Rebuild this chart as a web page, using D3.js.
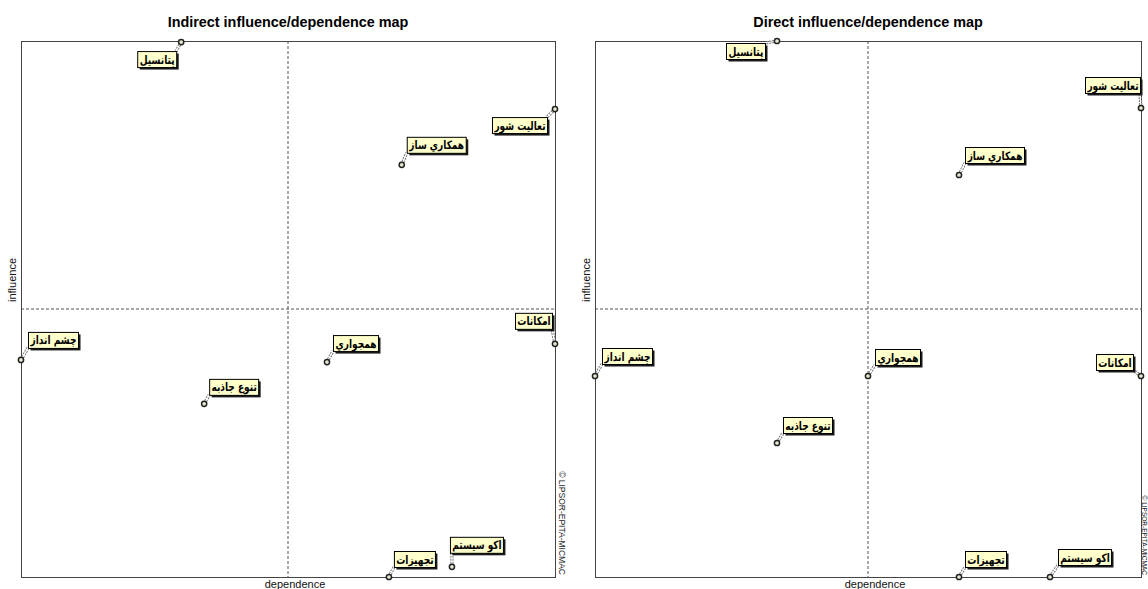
<!DOCTYPE html>
<html><head><meta charset="utf-8">
<script src="https://cdn.jsdelivr.net/npm/d3@7"></script>
<style>body{margin:0;background:#fff;overflow:hidden} svg{display:block}</style>
</head><body><svg id="c" width="1148" height="589"></svg>
<script>
// ---- data ----
const names = ["پتانسيل","تعاليت شور","همكاري ساز","چشم انداز","تنوع جاذبه","امكانات","همجواري","تجهيزات","اكو سيستم"];
const indirectDependence = [30.0, 100, 71.3, 0, 34.3, 100, 57.3, 68.9, 80.7];
const indirectInfluence  = [99.8, 87.3, 76.9, 40.5, 32.3, 43.5, 40.1, 0, 1.9];
const directDependence   = [2, 6, 4, 0, 2, 6, 3, 4, 5];
const directInfluence    = [8, 7, 6, 3, 2, 3, 3, 0, 0];
const titles = ["Indirect influence/dependence map", "Direct influence/dependence map"];
const xAxisTitle = "dependence";
const yAxisTitle = "influence";
const watermark = "© LIPSOR-EPITA-MICMAC";

// ---- layout (label placement relative to point) ----
const labelPlaceIndirect = [['l',-5,9],['l',-8,8],['r',5,-28],['r',7,-28],['r',5,-25],['l',-3,-31],['r',6,-27],['r',5,-26],['r',-2,-30]];
const labelPlaceDirect   = [['l',-12,2],['l',-1,-31],['r',6,-28],['r',7,-28],['r',6,-26],['l',-8,-22],['r',7,-27],['r',6,-26],['r',8,-28]];

const svg = d3.select("#c");

function drawMap(cfg){
  const g = svg.append("g");
  const x = d3.scaleLinear().domain(cfg.xDomain).range([cfg.x0, cfg.x1]);
  const y = d3.scaleLinear().domain(cfg.yDomain).range([cfg.y1, cfg.y0]);
  const xm = x((cfg.xDomain[0]+cfg.xDomain[1])/2), ym = y((cfg.yDomain[0]+cfg.yDomain[1])/2);

  // title
  g.append("text").attr("x", (cfg.x0+cfg.x1)/2).attr("y", 27).attr("text-anchor","middle")
    .attr("font-family","Liberation Sans, Arial, sans-serif").attr("font-weight","bold").attr("font-size", 14.4)
    .attr("fill","#000").text(cfg.title);

  // midlines
  g.append("line").attr("x1", xm).attr("x2", xm).attr("y1", cfg.y0).attr("y2", cfg.y1)
    .attr("stroke","#555").attr("stroke-dasharray","3,2").attr("stroke-width",1);
  g.append("line").attr("x1", cfg.x0).attr("x2", cfg.x1).attr("y1", ym).attr("y2", ym)
    .attr("stroke","#555").attr("stroke-dasharray","3,2").attr("stroke-width",1);

  // frame
  g.append("rect").attr("x", cfg.x0+0.5).attr("y", cfg.y0+0.5).attr("width", cfg.x1-cfg.x0).attr("height", cfg.y1-cfg.y0)
    .attr("fill","none").attr("stroke","#444").attr("stroke-width",1);

  // axis titles
  g.append("text").attr("transform", `translate(${cfg.x0-5},${(cfg.y0+cfg.y1)/2 - 29}) rotate(-90)`)
    .attr("text-anchor","middle").attr("font-family","Liberation Sans, Arial, sans-serif").attr("font-size",11)
    .attr("fill","#111").text(yAxisTitle);
  g.append("text").attr("x", (cfg.x0+cfg.x1)/2 + 7).attr("y", 588).attr("text-anchor","middle")
    .attr("font-family","Liberation Sans, Arial, sans-serif").attr("font-size",11).attr("fill","#111").text(xAxisTitle);

  // watermark
  g.append("text").attr("transform", `translate(${cfg.wmX},${cfg.y1-2}) rotate(90)`)
    .attr("text-anchor","end").attr("font-family","Liberation Sans, Arial, sans-serif").attr("font-size",cfg.wmSize)
    .attr("fill","#222").text(watermark);

  // points + labels
  const pts = names.map((n,i)=>({name:n, px:x(cfg.xs[i]), py:y(cfg.ys[i]), place:cfg.place[i]}));
  const lblLayer = g.append("g");
  const leadLayer = g.insert("g", () => lblLayer.node());
  pts.forEach(p=>{
    const lg = lblLayer.append("g");
    const t = lg.append("text").attr("font-family","DejaVu Sans Condensed, DejaVu Sans, sans-serif").attr("font-weight","bold")
      .attr("font-size",9.8).attr("fill","#000").text(p.name);
    const tw = t.node().getComputedTextLength();
    const bw = Math.round(tw + 5), bh = 16;
    t.attr("font-size", 11.5).attr("textLength", tw + 1).attr("lengthAdjust","spacingAndGlyphs");
    const [side, dx, dy] = p.place;
    const bx = side === 'r' ? p.px + dx : p.px + dx - bw;
    const by = p.py + dy;
    lg.insert("rect","text").attr("x", bx+2.5).attr("y", by+2.5).attr("width", bw).attr("height", bh).attr("fill","#1a1a1a");
    lg.insert("rect","text").attr("x", bx+0.5).attr("y", by+0.5).attr("width", bw).attr("height", bh)
      .attr("fill","#ffffcc").attr("stroke","#000").attr("stroke-width",1);
    t.attr("x", bx + bw/2 + 0.5).attr("y", by + 12.5).attr("text-anchor","middle");
    // leader to nearest box point
    const cx = Math.max(bx, Math.min(p.px, bx+bw)), cy = Math.max(by, Math.min(p.py, by+bh));
    leadLayer.append("line").attr("x1", p.px).attr("y1", p.py).attr("x2", cx).attr("y2", cy)
      .attr("stroke","#777").attr("stroke-width",3.2).attr("stroke-dasharray","2,1");
    leadLayer.append("line").attr("x1", p.px).attr("y1", p.py).attr("x2", cx).attr("y2", cy)
      .attr("stroke","#fff").attr("stroke-width",1.2);
    leadLayer.append("circle").attr("cx", p.px).attr("cy", p.py).attr("r", 2.6)
      .attr("fill","#e8e8d0").attr("stroke","#222").attr("stroke-width",1.5);
  });
}

drawMap({title:titles[0], x0:21, x1:555, y0:41, y1:577, xDomain:[0,100], yDomain:[0,100],
  xs:indirectDependence, ys:indirectInfluence, place:labelPlaceIndirect, wmX:559, wmSize:8.5});
drawMap({title:titles[1], x0:595, x1:1141, y0:41, y1:577, xDomain:[0,6], yDomain:[0,8],
  xs:directDependence, ys:directInfluence, place:labelPlaceDirect, wmX:1141.5, wmSize:6.5});
</script></body></html>
